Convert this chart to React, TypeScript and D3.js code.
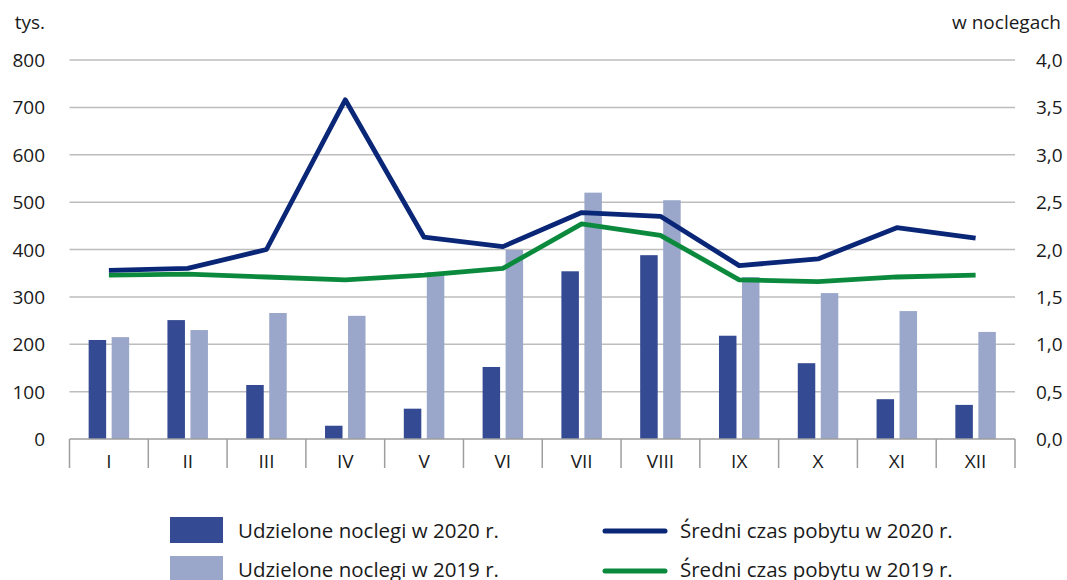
import React from 'react'
import * as d3 from 'd3'

const months = ['I', 'II', 'III', 'IV', 'V', 'VI', 'VII', 'VIII', 'IX', 'X', 'XI', 'XII']
const nights2020 = [209, 251, 114, 28, 64, 152, 354, 388, 218, 160, 84, 72]
const nights2019 = [215, 230, 266, 260, 352, 399, 520, 504, 342, 308, 270, 226]
const stay2020 = [1.78, 1.8, 2.0, 3.58, 2.13, 2.03, 2.39, 2.35, 1.83, 1.9, 2.23, 2.12]
const stay2019 = [1.73, 1.74, 1.71, 1.68, 1.73, 1.8, 2.27, 2.15, 1.68, 1.66, 1.71, 1.73]
const leftTicks = [0, 100, 200, 300, 400, 500, 600, 700, 800]
const rightTicks = [0, 0.5, 1, 1.5, 2, 2.5, 3, 3.5, 4]

const W = 1067
const H = 580
const FONT = '"Open Sans", sans-serif'
const TXT = '#1a1a1a'

function App() {
    const x = d3.scaleBand().domain(months).range([69.5, 1015])
    const yL = d3.scaleLinear().domain([0, 800]).range([439, 60])
    const yR = d3.scaleLinear().domain([0, 4]).range([439, 60])
    const barW = 17.5
    const gap = 5.5

    const line = (vals) => d3.line()
        .x((d, i) => x(months[i]) + x.bandwidth() / 2)
        .y(d => yR(d))(vals)

    return (
        <div style={{position: 'absolute', left: 0, top: 0}}>
            <svg width={W} height={H} style={{display: 'block', fontFamily: FONT}}>
                <rect width={W} height={H} fill="white" />
                {/* grid */}
                {leftTicks.filter(t => t > 0).map(t => (
                    <line key={t} x1={69.5} x2={1015} y1={yL(t)} y2={yL(t)} stroke="#bdbdbd" strokeWidth={1.5} />
                ))}
                {/* left labels */}
                <text x={45} y={29} textAnchor="end" fontSize={19} fill={TXT}>tys.</text>
                {leftTicks.map(t => (
                    <text key={t} x={45} y={yL(t) + 7} textAnchor="end" fontSize={19} fill={TXT}>{t}</text>
                ))}
                {/* right labels */}
                <text x={1061} y={29} textAnchor="end" fontSize={19} fill={TXT}>w noclegach</text>
                {rightTicks.map(t => (
                    <text key={t} x={1036} y={yR(t) + 7} fontSize={19} fill={TXT}>{d3.format('.1f')(t).replace('.', ',')}</text>
                ))}
                {/* bars */}
                {months.map((m, i) => {
                    const c = x(m) + x.bandwidth() / 2
                    return (
                        <g key={m}>
                            <rect x={c - gap / 2 - barW} y={yL(nights2020[i])} width={barW} height={yL(0) - yL(nights2020[i])} fill="#344a92" />
                            <rect x={c + gap / 2} y={yL(nights2019[i])} width={barW} height={yL(0) - yL(nights2019[i])} fill="#9aa7ca" />
                        </g>
                    )
                })}
                {/* category axis */}
                <line x1={69.5} x2={1015} y1={439} y2={439} stroke="#9e9e9e" strokeWidth={1.5} />
                {months.map(m => (
                    <line key={'s' + m} x1={x(m)} x2={x(m)} y1={439} y2={468} stroke="#9e9e9e" strokeWidth={1.5} />
                ))}
                <line x1={1015} x2={1015} y1={439} y2={468} stroke="#9e9e9e" strokeWidth={1.5} />
                {months.map(m => (
                    <text key={'l' + m} x={x(m) + x.bandwidth() / 2} y={468} textAnchor="middle" fontSize={19} fill={TXT}>{m}</text>
                ))}
                {/* lines */}
                <path d={line(stay2019)} fill="none" stroke="#0b8a3e" strokeWidth={4.8} strokeLinejoin="round" />
                <path d={line(stay2020)} fill="none" stroke="#0a2677" strokeWidth={4.8} strokeLinejoin="round" />
                {/* legend */}
                <rect x={170} y={517} width={53} height={26} fill="#344a92" />
                <text x={238} y={538} fontSize={20.5} fill={TXT}>Udzielone noclegi w 2020 r.</text>
                <rect x={170} y={556} width={53} height={26} fill="#9aa7ca" />
                <text x={238} y={577} fontSize={20.5} fill={TXT}>Udzielone noclegi w 2019 r.</text>
                <line x1={605} x2={665} y1={531} y2={531} stroke="#0a2677" strokeWidth={5} strokeLinecap="round" />
                <text x={680} y={538} fontSize={20.5} fill={TXT}>Średni czas pobytu w 2020 r.</text>
                <line x1={605} x2={665} y1={571} y2={571} stroke="#0b8a3e" strokeWidth={5} strokeLinecap="round" />
                <text x={680} y={577} fontSize={20.5} fill={TXT}>Średni czas pobytu w 2019 r.</text>
            </svg>
        </div>
    )
}

export default App
